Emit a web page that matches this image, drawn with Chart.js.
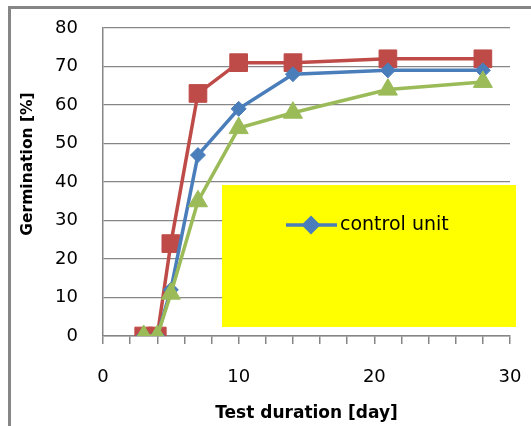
<!DOCTYPE html>
<html>
<head>
<meta charset="utf-8">
<script src="https://cdn.jsdelivr.net/npm/chart.js@4/dist/chart.umd.min.js"></script>
<style>
  html, body { margin: 0; padding: 0; background: #fff; }
  #wrap { width: 531px; height: 426px; }
</style>
</head>
<body>
<div id="wrap"><canvas id="myChart" width="531" height="426"></canvas></div>
<script>
'use strict';

// Data

let days = [3, 4, 5, 7, 10, 14, 21, 28];
let controlUnit = [0, 0, 12, 47, 59, 68, 69, 69];
let unitRed = [0, 0, 24, 63, 71, 71, 72, 72];
let unitGreen = [0, 0, 11, 35, 54, 58, 64, 66];

let yTicks = [0, 10, 20, 30, 40, 50, 60, 70, 80];
let xLabelTicks = [0, 10, 20, 30];

let gray = '#868686';
let tickFont = '"DejaVu Sans", sans-serif';

function toPoints(values) {
  let pts = [];
  for (let i = 0; i < days.length; i++) {
    pts.push({ x: days[i], y: values[i] });
  }
  return pts;
}

// outer frame of the picture + y axis title
let framePlugin = {
  id: 'frame',
  beforeDraw(chart) {
    let ctx = chart.ctx;
    ctx.save();
    ctx.strokeStyle = gray;
    ctx.lineWidth = 3;
    ctx.beginPath();
    ctx.moveTo(9.5, 426);
    ctx.lineTo(9.5, 7.5);
    ctx.lineTo(531, 7.5);
    ctx.stroke();

    ctx.translate(28, 164);
    ctx.rotate(-Math.PI / 2);
    ctx.fillStyle = '#000';
    ctx.font = 'bold 15.5px ' + tickFont;
    ctx.textAlign = 'center';
    ctx.textBaseline = 'middle';
    ctx.fillText('Germination [%]', 0, 0);
    ctx.restore();
  }
};

// yellow box that hides most of the legend, only the control unit shows
let legendBoxPlugin = {
  id: 'legendBox',
  afterDatasetsDraw(chart) {
    let ctx = chart.ctx;
    let ds = chart.data.datasets.find(d => d.label === 'control unit');
    ctx.save();
    ctx.fillStyle = '#ffff00';
    ctx.fillRect(222, 185, 294, 142);

    ctx.strokeStyle = ds.borderColor;
    ctx.lineWidth = 3.5;
    ctx.beginPath();
    ctx.moveTo(286, 225);
    ctx.lineTo(337, 225);
    ctx.stroke();

    ctx.fillStyle = ds.pointBackgroundColor;
    ctx.strokeStyle = ds.pointBorderColor;
    Chart.helpers.drawPoint(ctx, {
      pointStyle: 'rectRot',
      radius: 7,
      borderWidth: 1
    }, 311, 225);

    ctx.fillStyle = '#000';
    ctx.font = '19px ' + tickFont;
    ctx.textBaseline = 'middle';
    ctx.textAlign = 'left';
    ctx.fillText(ds.label, 340, 225);
    ctx.restore();
  }
};

let ctx = document.getElementById('myChart').getContext('2d');
const myChart = new Chart(ctx, {
  type: 'line',
  data: {
    datasets: [{
      label: 'treatment B',
      data: toPoints(unitGreen),
      borderColor: '#9BBB59',
      backgroundColor: '#9BBB59',
      pointBackgroundColor: '#9BBB59',
      pointBorderColor: '#9BBB59',
      pointBorderWidth: 1,
      pointStyle: 'triangle',
      pointRadius: 11,
      borderWidth: 3.5,
      tension: 0
    },
    {
      label: 'control unit',
      data: toPoints(controlUnit),
      borderColor: '#4A7EBB',
      backgroundColor: '#4A7EBB',
      pointBackgroundColor: '#4A7EBB',
      pointBorderColor: '#4A7EBB',
      pointBorderWidth: 1,
      pointStyle: 'rectRot',
      pointRadius: 7.5,
      borderWidth: 3.5,
      tension: 0
    },
    {
      label: 'treatment A',
      data: toPoints(unitRed),
      borderColor: '#BE4B48',
      backgroundColor: '#BE4B48',
      pointBackgroundColor: '#BE4B48',
      pointBorderColor: '#BE4B48',
      pointBorderWidth: 1,
      pointStyle: 'rect',
      pointRadius: 12.5,
      borderWidth: 3.5,
      tension: 0
    }]
  },
  options: {
    responsive: false,
    animation: false,
    layout: {
      padding: { left: 12, top: 28, right: 21, bottom: 0 }
    },
    plugins: {
      legend: { display: false },
      tooltip: { enabled: false }
    },
    scales: {
      x: {
        type: 'linear',
        min: 0,
        max: 30,
        afterBuildTicks(scale) {
          let t = [];
          for (let v = 0; v <= 30; v += 2) {
            t.push({ value: v });
          }
          scale.ticks = t;
        },
        afterFit(scale) {
          scale.height = 90;
          scale.paddingLeft = 0;
          scale.paddingRight = 12;
        },
        ticks: {
          autoSkip: false,
          maxRotation: 0,
          padding: 23,
          color: '#000',
          font: { family: tickFont, size: 18 },
          callback: function(v) {
            return xLabelTicks.includes(v) ? String(v) : '';
          }
        },
        grid: {
          drawOnChartArea: false,
          drawTicks: true,
          tickLength: 8,
          color: gray,
          lineWidth: 1.5
        },
        border: { color: gray, width: 1.5 },
        title: {
          display: true,
          text: 'Test duration [day]',
          color: '#000',
          font: { family: tickFont, size: 17, weight: 'bold' },
          padding: { top: 0, bottom: 2 }
        }
      },
      y: {
        min: 0,
        max: 80,
        afterBuildTicks(scale) {
          scale.ticks = yTicks.map(v => ({ value: v }));
        },
        afterFit(scale) {
          scale.width = 91;
          scale.paddingTop = 10;
          scale.paddingBottom = 0;
        },
        ticks: {
          padding: 2,
          color: '#000',
          font: { family: tickFont, size: 18 }
        },
        grid: {
          drawTicks: true,
          tickLength: 23,
          tickColor: 'rgba(0,0,0,0)',
          color: gray,
          lineWidth: 1.2
        },
        border: { color: gray, width: 1.5 }
      }
    }
  },
  plugins: [framePlugin, legendBoxPlugin]
});
</script>
</body>
</html>
